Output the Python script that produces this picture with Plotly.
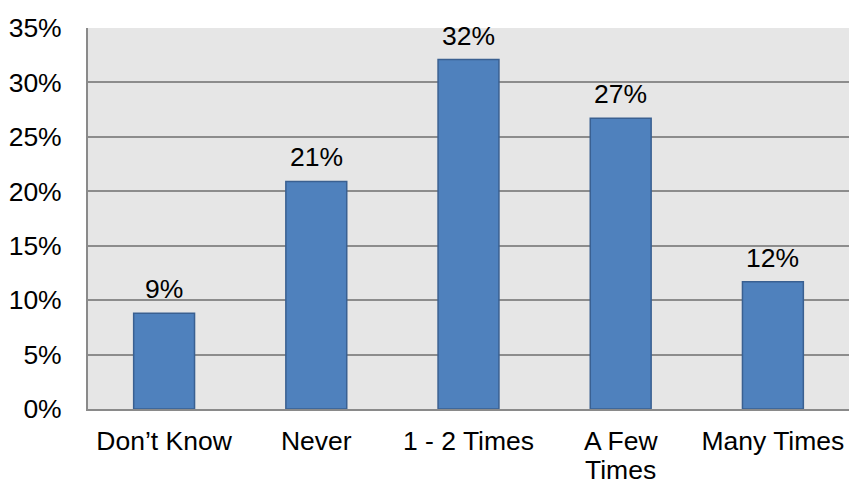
import plotly.graph_objects as go

categories = ["Don’t Know", "Never", "1 - 2 Times", "A Few Times", "Many Times"]
tick_line1 = ["Don’t Know", "Never", "1 - 2 Times", "A Few", "Many Times"]
tick_line2 = ["", "", "", "Times", ""]
values = [0.088, 0.209, 0.321, 0.267, 0.117]
labels = ["9%", "21%", "32%", "27%", "12%"]
y_ticks = [0, 0.05, 0.10, 0.15, 0.20, 0.25, 0.30, 0.35]
y_tick_text = ["0%", "5%", "10%", "15%", "20%", "25%", "30%", "35%"]

FONT = "Liberation Sans, Arial, sans-serif"
FS = 26.5

fig = go.Figure()
fig.add_trace(go.Bar(
    x=categories, y=values, width=0.4,
    marker=dict(color="#4f81bd", line=dict(color="#3a6091", width=1.5)),
    hoverinfo="skip",
))

for c, v, t in zip(categories, values, labels):
    fig.add_annotation(x=c, y=v, text=t, showarrow=False, yanchor="bottom",
                       yshift=7, font=dict(size=FS, color="#000000", family=FONT))

# second line of wrapped category labels (tighter line spacing than <br>)
for c, t in zip(categories, tick_line2):
    if t:
        fig.add_annotation(x=c, xref="x", y=0, yref="paper", text=t,
                           showarrow=False, yanchor="top", yshift=-44,
                           font=dict(size=FS, color="#000000", family=FONT))

fig.update_layout(
    width=849, height=482,
    margin=dict(l=87.5, r=0, t=27.5, b=73),
    paper_bgcolor="#ffffff", plot_bgcolor="#e6e6e6",
    font=dict(family=FONT, size=FS, color="#000000"),
    showlegend=False,
    bargap=0.6,
)
fig.update_xaxes(
    tickvals=categories, ticktext=tick_line1,
    showline=True, linecolor="#8a8a8a", linewidth=2,
    showgrid=False, ticks="", tickfont=dict(size=FS),
    ticklabelstandoff=7, range=[-0.5, 4.5], automargin=False,
)
fig.update_yaxes(
    range=[0, 0.35], tickvals=y_ticks, ticktext=y_tick_text,
    showline=True, linecolor="#8a8a8a", linewidth=2,
    showgrid=True, gridcolor="#8c8c8c", gridwidth=2,
    zeroline=False, ticks="", tickfont=dict(size=FS),
    ticklabelstandoff=19, automargin=False,
)

fig.write_html("out.html")
